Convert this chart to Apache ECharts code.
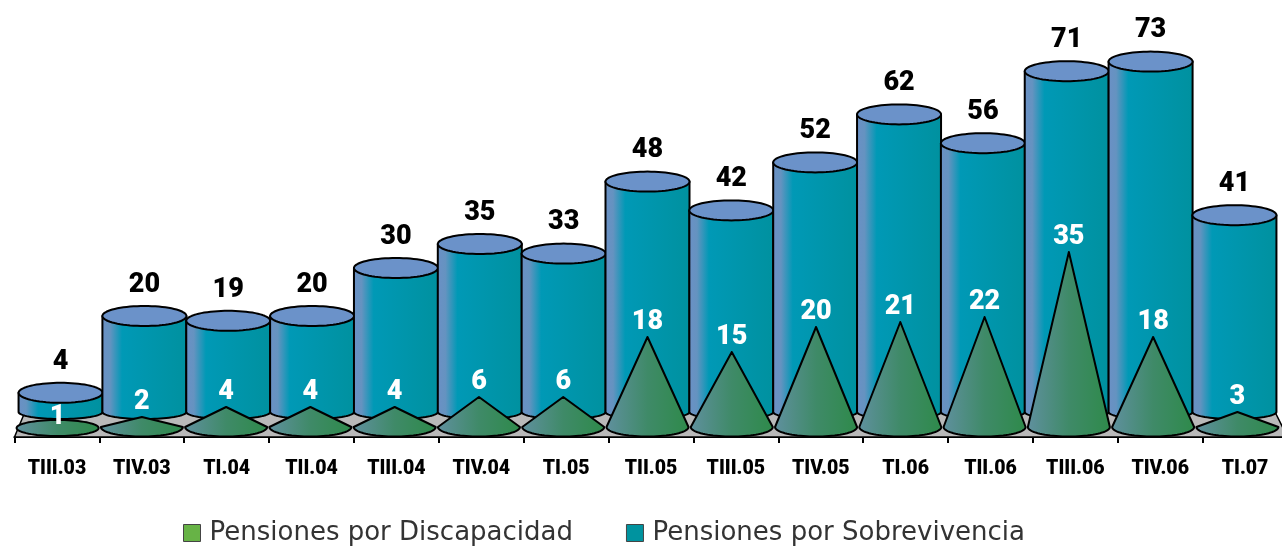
<!DOCTYPE html>
<html><head><meta charset="utf-8">
<style>html,body{margin:0;padding:0;background:#fff}#c{width:1282px;height:546px}</style>
<script src="https://cdn.jsdelivr.net/npm/echarts@6/dist/echarts.min.js"></script>
</head><body><div id="c"></div>
<script>
const categories = ['TIII.03','TIV.03','TI.04','TII.04','TIII.04','TIV.04','TI.05','TII.05','TIII.05','TIV.05','TI.06','TII.06','TIII.06','TIV.06','TI.07'];
const discapacidad = [1,2,4,4,4,6,6,18,15,20,21,22,35,18,3];
const sobrevivencia = [4,20,19,20,30,35,33,48,42,52,62,56,71,73,41];

const chart = echarts.init(document.getElementById('c'), null, {renderer:'canvas'});
const G = echarts.graphic;
const FONT = 'Roboto, "Liberation Sans", sans-serif';

// small 3-D look: rows sit at different depths
function depthX(x, cs, scale){ const mid = cs.x + cs.width/2; return mid - 3.5 + (x - mid)*scale; }
function arc(cx, cy, rx, ry, a0, a1, n){
  const p=[]; for(let i=0;i<=n;i++){const a=a0+(a1-a0)*i/n; p.push([cx+rx*Math.cos(a), cy+ry*Math.sin(a)]);} return p;
}
const stroke = {stroke:'#000', lineWidth:2, lineJoin:'round'};

function renderFloor(params, api){
  const cs = params.coordSys;
  const b = cs.y + cs.height, l = cs.x, r = cs.x + cs.width, d = 24;
  return {type:'group', children:[
    {type:'polygon', shape:{points:[[l,b],[l+10,b-d],[r-12,b-d],[r,b]]}, style:{fill:'#b9b9b9', stroke:'#000', lineWidth:1.5}}
  ]};
}

function renderCylinder(params, api){
  const cs = params.coordSys;
  const i = api.value(0), v = api.value(1);
  const p = api.coord([i, v]), p0 = api.coord([i, 0]);
  const cx = depthX(p[0], cs, 0.988), rx = 42, base = p0[1] - 15;
  const top = base - (p0[1] - p[1]) * 0.96;
  const body = [[cx-rx, top]].concat(arc(cx, base, rx, 7, Math.PI, 0, 40)).concat([[cx+rx, top]]);
  body.splice(1, 0, [cx-rx, base]);
  const side = new G.LinearGradient(0,0,1,0,[
    {offset:0,color:'#6b90c6'},{offset:0.1,color:'#6593c0'},{offset:0.24,color:'#0099b6'},{offset:1,color:'#00919f'}]);
  return {type:'group', children:[
    {type:'polygon', shape:{points:body}, style:Object.assign({fill:side}, stroke)},
    {type:'polygon', shape:{points:arc(cx, top, rx, 10, 0, Math.PI*2, 72)}, style:Object.assign({fill:'#6b92c9'}, stroke)},
    {type:'text', style:{text:String(v), x:cx, y:top-31, align:'center', verticalAlign:'middle',
      font:'900 27px '+FONT, fill:'#000'}}
  ]};
}

function renderCone(params, api){
  const cs = params.coordSys;
  const i = api.value(0), v = api.value(1);
  const p = api.coord([i, v]), p0 = api.coord([i, 0]);
  const cx = depthX(p[0], cs, 0.993), rx = 41, ry = 9.5, base = p0[1];
  const fill = new G.LinearGradient(0,0,1,0,[
    {offset:0,color:'#60909f'},{offset:0.5,color:'#3f8a68'},{offset:1,color:'#2e8a4a'}]);
  const h = base - p[1];
  let pts;
  if (h <= ry) pts = arc(cx, base+1, rx, 8, 0, Math.PI*2, 72);
  else pts = [[cx, p[1]]].concat(arc(cx, base, rx, ry, Math.PI, 0, 40));
  const ly = h <= ry ? base - 10 : p[1] - 15;
  return {type:'group', children:[
    {type:'polygon', shape:{points:pts}, style:Object.assign({fill}, stroke)},
    {type:'text', style:{text:String(v), x:cx, y:ly, align:'center', verticalAlign:'middle',
      font:'900 27px '+FONT, fill:'#fff'}}
  ]};
}

chart.setOption({
  animation:false,
  backgroundColor:'#fff',
  grid:{left:14.5, top:0, width:1273, height:437, containLabel:false, outerBoundsMode:'none'},
  xAxis:{type:'category', data:categories, boundaryGap:true,
    axisLine:{onZero:false, lineStyle:{color:'#000', width:2}},
    axisTick:{show:true, length:6, lineStyle:{color:'#000', width:2}, alignWithLabel:false},
    axisLabel:{interval:0, margin:22, color:'#000', fontFamily:FONT, fontWeight:900, fontSize:19.5},
    splitLine:{show:false}},
  yAxis:{type:'value', min:-2, max:85.4, show:false, splitLine:{show:false}},
  legend:{left:183, top:520, icon:'rect', itemWidth:17, itemHeight:17, itemGap:53,
    data:['Pensiones por Discapacidad','Pensiones por Sobrevivencia'],
    itemStyle:{borderColor:'#444', borderWidth:1},
    selectedMode:false,
    padding:0,
    textStyle:{fontFamily:'DejaVu Sans', fontSize:26, color:'#333', padding:[0,0,0,4]}},
  series:[
    {type:'custom', name:'floor', renderItem:renderFloor, data:[[0,0]], encode:{x:0,y:1}, silent:true, z:1},
    {type:'custom', name:'Pensiones por Sobrevivencia', renderItem:renderCylinder,
      data:sobrevivencia.map((v,i)=>[i,v]), encode:{x:0,y:1}, itemStyle:{color:'#00939f'}, z:2},
    {type:'custom', name:'Pensiones por Discapacidad', renderItem:renderCone,
      data:discapacidad.map((v,i)=>[i,v]), encode:{x:0,y:1}, itemStyle:{color:'#67b346'}, z:3}
  ]
});
</script></body></html>
